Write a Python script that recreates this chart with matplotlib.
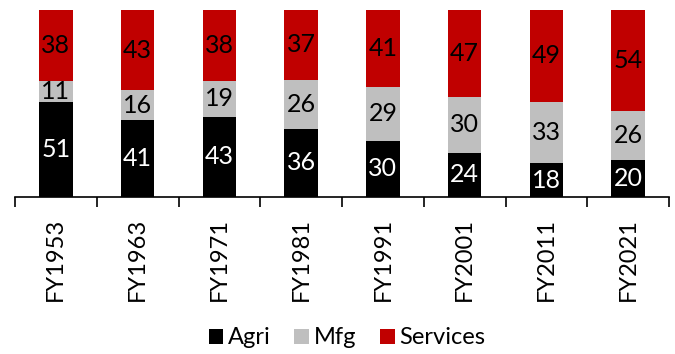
import matplotlib
matplotlib.use("Agg")
import matplotlib.pyplot as plt
from matplotlib.patches import Patch

categories = ["FY1953", "FY1963", "FY1971", "FY1981", "FY1991", "FY2001", "FY2011", "FY2021"]
agri = [51, 41, 43, 36, 30, 24, 18, 20]
mfg = [11, 16, 19, 26, 29, 30, 33, 26]
services = [38, 43, 38, 37, 41, 47, 49, 54]

series_names = ["Agri", "Mfg", "Services"]
colors = ["#000000", "#BFBFBF", "#C00000"]
text_colors = ["white", "black", "black"]

plt.rcParams['font.family'] = ['Lato', 'DejaVu Sans']

fig = plt.figure(figsize=(6.75, 3.54), dpi=100)
ax = fig.add_axes([15/675, 1-197/354, (669-15)/675, (197-10)/354])

x = list(range(len(categories)))
totals = [a + m + s for a, m, s in zip(agri, mfg, services)]
bottoms = [0.0]*len(categories)
for vals, col, tcol in zip([agri, mfg, services], colors, text_colors):
    shares = [v / t * 100 for v, t in zip(vals, totals)]
    ax.bar(x, shares, bottom=bottoms, width=0.41, color=col, edgecolor='none')
    for xi, v, sh, b in zip(x, vals, shares, bottoms):
        ax.text(xi, b + sh/2, str(v), ha='center', va='center', color=tcol, fontsize=18)
    bottoms = [b + sh for b, sh in zip(bottoms, shares)]

ax.set_xlim(-0.5, len(categories)-0.5)
ax.set_ylim(0, 100)
ax.set_yticks([])
for s in ['left', 'right', 'top']:
    ax.spines[s].set_visible(False)
ax.spines['bottom'].set_linewidth(1.2)
ax.set_xticks(x)
ax.set_xticklabels(categories, rotation=90, fontsize=17)
ax.tick_params(axis='x', which='major', length=0, pad=15)
ax.set_xticks([i - 0.5 for i in range(len(categories)+1)], minor=True)
ax.tick_params(axis='x', which='minor', length=7, width=1.2)

handles = [Patch(facecolor=c, edgecolor='none', label=n) for c, n in zip(colors, series_names)]
fig.legend(handles=handles, loc='center', bbox_to_anchor=(347/675, 1-338/354), ncol=3,
           frameon=False, fontsize=17, handlelength=0.62, handleheight=0.62,
           handletextpad=0.2, columnspacing=1.0, borderaxespad=0)

fig.savefig("out.png", dpi=100)
